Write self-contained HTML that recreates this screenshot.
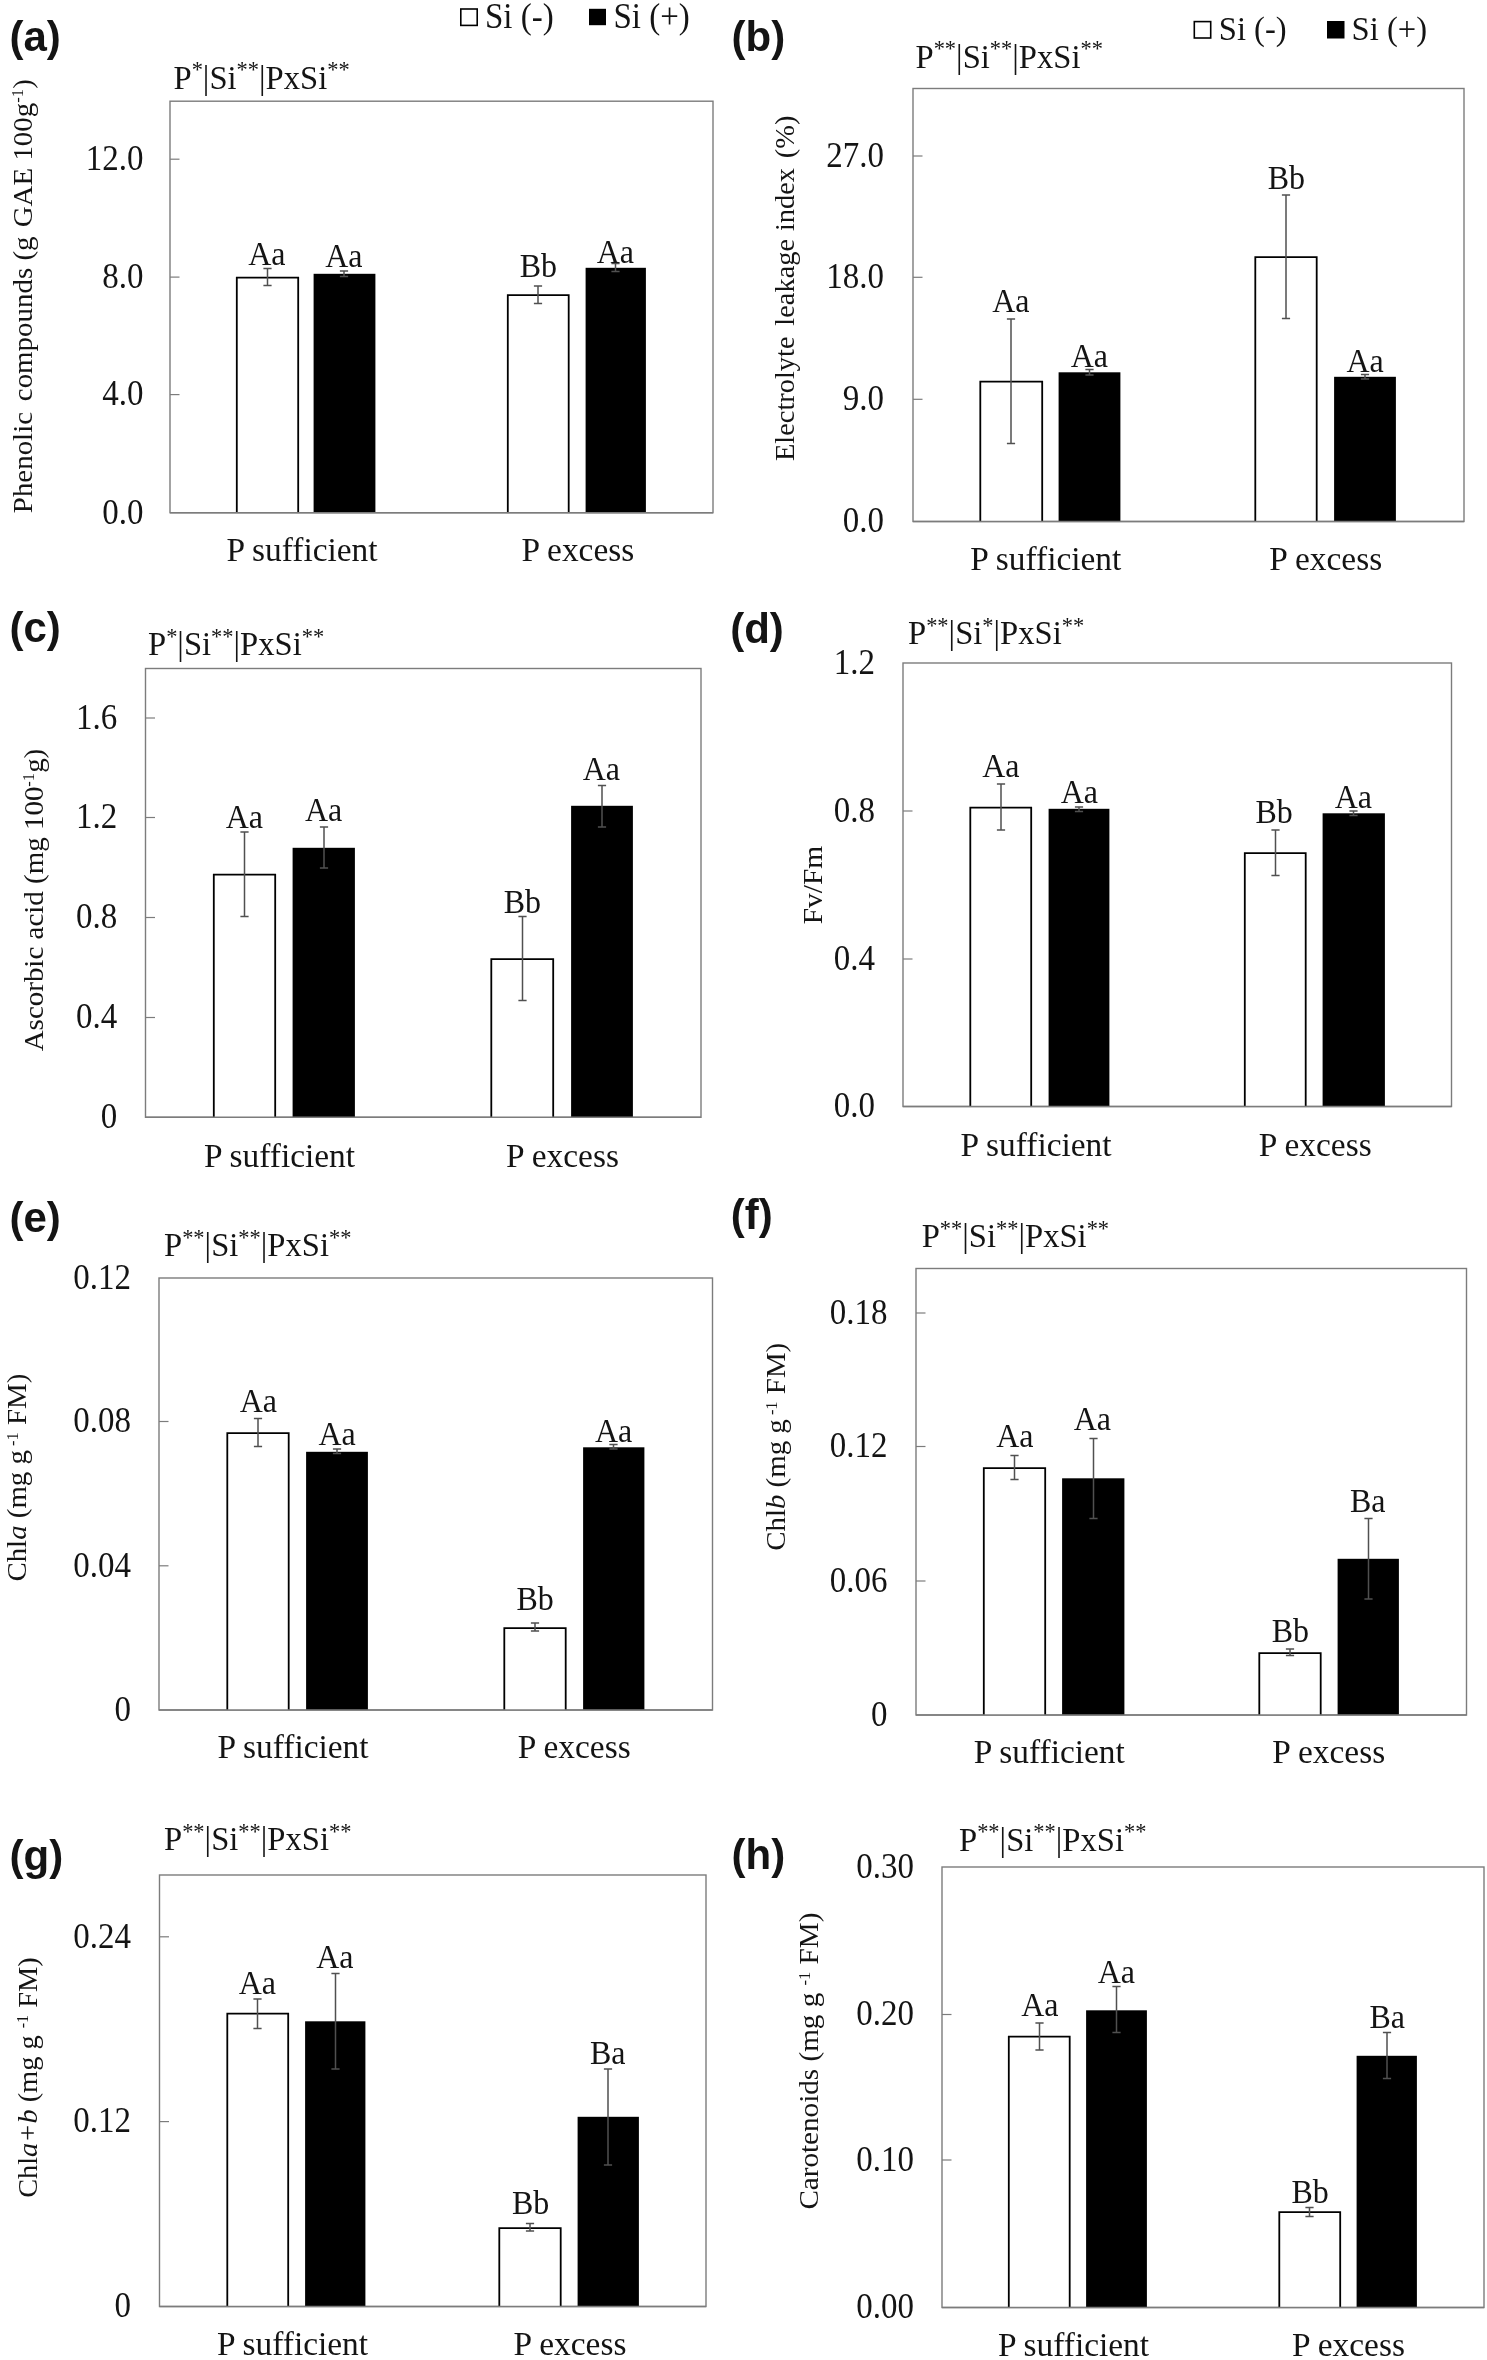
<!DOCTYPE html>
<html><head><meta charset="utf-8"><title>Figure</title>
<style>
html,body{margin:0;padding:0;background:#fff;}
body{width:1487px;height:2360px;overflow:hidden;font-family:"Liberation Serif",serif;}
svg{display:block;filter:blur(0.4px);}
text{white-space:pre;}
</style></head><body>
<svg width="1487" height="2360" viewBox="0 0 1487 2360">
<rect x="0" y="0" width="1487" height="2360" fill="#fff"/>
<rect x="170" y="101.2" width="543" height="411.5" fill="#fff" stroke="#7c7c7c" stroke-width="1.4"/>
<line x1="170" y1="159.2" x2="179.5" y2="159.2" stroke="#7c7c7c" stroke-width="1.2"/>
<text transform="translate(143.5 170) scale(1 1.06)" font-size="33" text-anchor="end" font-family='"Liberation Serif", serif' font-weight="normal" fill="#141414">12.0</text>
<line x1="170" y1="277.1" x2="179.5" y2="277.1" stroke="#7c7c7c" stroke-width="1.2"/>
<text transform="translate(143.5 287.9) scale(1 1.06)" font-size="33" text-anchor="end" font-family='"Liberation Serif", serif' font-weight="normal" fill="#141414">8.0</text>
<line x1="170" y1="394.6" x2="179.5" y2="394.6" stroke="#7c7c7c" stroke-width="1.2"/>
<text transform="translate(143.5 405.4) scale(1 1.06)" font-size="33" text-anchor="end" font-family='"Liberation Serif", serif' font-weight="normal" fill="#141414">4.0</text>
<text transform="translate(143.5 523.5) scale(1 1.06)" font-size="33" text-anchor="end" font-family='"Liberation Serif", serif' font-weight="normal" fill="#141414">0.0</text>
<path d="M236.8 512.7V277.7H298.2V512.7" fill="#fff" stroke="#000" stroke-width="1.8"/>
<rect x="313.6" y="273.8" width="61.8" height="238.9" fill="#000"/>
<path d="M507.8 512.7V295.2H568.7V512.7" fill="#fff" stroke="#000" stroke-width="1.8"/>
<rect x="585.6" y="267.8" width="60.3" height="244.9" fill="#000"/>
<line x1="170" y1="512.7" x2="713" y2="512.7" stroke="#7c7c7c" stroke-width="1.4"/>
<path d="M267.5 268.5V285.5M263.4 268.5H271.6M263.4 285.5H271.6" stroke="#505050" stroke-width="1.5" fill="none"/>
<path d="M344 271V276.5M339.9 271H348.1M339.9 276.5H348.1" stroke="#505050" stroke-width="1.5" fill="none"/>
<path d="M538 286V303.5M533.9 286H542.1M533.9 303.5H542.1" stroke="#505050" stroke-width="1.5" fill="none"/>
<path d="M615.5 263.5V271.5M611.4 263.5H619.6M611.4 271.5H619.6" stroke="#505050" stroke-width="1.5" fill="none"/>
<text transform="translate(266.8 264.7) scale(1 1.06)" font-size="32" text-anchor="middle" font-family='"Liberation Serif", serif' font-weight="normal" fill="#141414">Aa</text>
<text transform="translate(343.8 267.2) scale(1 1.06)" font-size="32" text-anchor="middle" font-family='"Liberation Serif", serif' font-weight="normal" fill="#141414">Aa</text>
<text transform="translate(538.3 277.2) scale(1 1.06)" font-size="32" text-anchor="middle" font-family='"Liberation Serif", serif' font-weight="normal" fill="#141414">Bb</text>
<text transform="translate(615.3 262.7) scale(1 1.06)" font-size="32" text-anchor="middle" font-family='"Liberation Serif", serif' font-weight="normal" fill="#141414">Aa</text>
<text transform="translate(302 561.3) scale(1 1)" font-size="33.4" text-anchor="middle" font-family='"Liberation Serif", serif' font-weight="normal" fill="#141414">P sufficient</text>
<text transform="translate(577.8 561.3) scale(1 1)" font-size="33.4" text-anchor="middle" font-family='"Liberation Serif", serif' font-weight="normal" fill="#141414">P excess</text>
<text transform="translate(173.5 88.6) scale(1 1.06)" font-size="32.6" text-anchor="start" font-family='"Liberation Serif", serif' font-weight="normal" fill="#141414">P<tspan dy="-10.76" font-size="22.49">*</tspan><tspan dy="10.76">|</tspan>Si<tspan dy="-10.76" font-size="22.49">**</tspan><tspan dy="10.76">|</tspan>PxSi<tspan dy="-10.76" font-size="22.49">**</tspan></text>
<text transform="translate(9.5 51.3) scale(1 1)" font-size="42" text-anchor="start" font-family='"Liberation Sans", sans-serif' font-weight="bold" fill="#141414">(a)</text>
<text transform="translate(31.6 296.2) rotate(-90) scale(1.06 1)" font-size="27.5" text-anchor="middle" font-family='"Liberation Serif", serif' font-weight="normal" fill="#141414" textLength="409.43" lengthAdjust="spacingAndGlyphs">Phenolic <tspan dx="3.4">compounds</tspan> (g <tspan dx="1.9">GAE</tspan> 100g<tspan dy="-8.34" font-size="15.85">-1</tspan><tspan dy="8.34">&#8203;</tspan>)</text>
<rect x="913" y="88.5" width="551" height="433" fill="#fff" stroke="#7c7c7c" stroke-width="1.4"/>
<line x1="913" y1="156" x2="922.5" y2="156" stroke="#7c7c7c" stroke-width="1.2"/>
<text transform="translate(884 166.8) scale(1 1.06)" font-size="33" text-anchor="end" font-family='"Liberation Serif", serif' font-weight="normal" fill="#141414">27.0</text>
<line x1="913" y1="277.3" x2="922.5" y2="277.3" stroke="#7c7c7c" stroke-width="1.2"/>
<text transform="translate(884 288.1) scale(1 1.06)" font-size="33" text-anchor="end" font-family='"Liberation Serif", serif' font-weight="normal" fill="#141414">18.0</text>
<line x1="913" y1="399.3" x2="922.5" y2="399.3" stroke="#7c7c7c" stroke-width="1.2"/>
<text transform="translate(884 410.1) scale(1 1.06)" font-size="33" text-anchor="end" font-family='"Liberation Serif", serif' font-weight="normal" fill="#141414">9.0</text>
<text transform="translate(884 532.3) scale(1 1.06)" font-size="33" text-anchor="end" font-family='"Liberation Serif", serif' font-weight="normal" fill="#141414">0.0</text>
<path d="M980.3 521.5V381.7H1042.2V521.5" fill="#fff" stroke="#000" stroke-width="1.8"/>
<rect x="1058.6" y="372.3" width="61.8" height="149.2" fill="#000"/>
<path d="M1255.3 521.5V257.2H1316.7V521.5" fill="#fff" stroke="#000" stroke-width="1.8"/>
<rect x="1334.1" y="376.8" width="61.8" height="144.7" fill="#000"/>
<line x1="913" y1="521.5" x2="1464" y2="521.5" stroke="#7c7c7c" stroke-width="1.4"/>
<path d="M1011 319V443.5M1006.9 319H1015.1M1006.9 443.5H1015.1" stroke="#505050" stroke-width="1.5" fill="none"/>
<path d="M1089.5 369.5V375M1085.4 369.5H1093.6M1085.4 375H1093.6" stroke="#505050" stroke-width="1.5" fill="none"/>
<path d="M1286 195V318.5M1281.9 195H1290.1M1281.9 318.5H1290.1" stroke="#505050" stroke-width="1.5" fill="none"/>
<path d="M1365 374.5V379M1360.9 374.5H1369.1M1360.9 379H1369.1" stroke="#505050" stroke-width="1.5" fill="none"/>
<text transform="translate(1010.8 311.7) scale(1 1.06)" font-size="32" text-anchor="middle" font-family='"Liberation Serif", serif' font-weight="normal" fill="#141414">Aa</text>
<text transform="translate(1089.3 366.7) scale(1 1.06)" font-size="32" text-anchor="middle" font-family='"Liberation Serif", serif' font-weight="normal" fill="#141414">Aa</text>
<text transform="translate(1286.3 188.7) scale(1 1.06)" font-size="32" text-anchor="middle" font-family='"Liberation Serif", serif' font-weight="normal" fill="#141414">Bb</text>
<text transform="translate(1365.05 372.2) scale(1 1.06)" font-size="32" text-anchor="middle" font-family='"Liberation Serif", serif' font-weight="normal" fill="#141414">Aa</text>
<text transform="translate(1045.75 569.8) scale(1 1)" font-size="33.4" text-anchor="middle" font-family='"Liberation Serif", serif' font-weight="normal" fill="#141414">P sufficient</text>
<text transform="translate(1325.75 569.8) scale(1 1)" font-size="33.4" text-anchor="middle" font-family='"Liberation Serif", serif' font-weight="normal" fill="#141414">P excess</text>
<text transform="translate(915.5 67.5) scale(1 1.06)" font-size="32.6" text-anchor="start" font-family='"Liberation Serif", serif' font-weight="normal" fill="#141414">P<tspan dy="-10.76" font-size="22.49">**</tspan><tspan dy="10.76">|</tspan>Si<tspan dy="-10.76" font-size="22.49">**</tspan><tspan dy="10.76">|</tspan>PxSi<tspan dy="-10.76" font-size="22.49">**</tspan></text>
<text transform="translate(731.5 51.3) scale(1 1)" font-size="42" text-anchor="start" font-family='"Liberation Sans", sans-serif' font-weight="bold" fill="#141414">(b)</text>
<text transform="translate(794 288.3) rotate(-90) scale(1.06 1)" font-size="27.3" text-anchor="middle" font-family='"Liberation Serif", serif' font-weight="normal" fill="#141414" textLength="325.94" lengthAdjust="spacingAndGlyphs">Electrolyte <tspan dx="3.6">leakage</tspan> <tspan dx="0.8">index</tspan> <tspan dx="2.6">(%)</tspan></text>
<rect x="145.5" y="668.5" width="555.5" height="448.8" fill="#fff" stroke="#7c7c7c" stroke-width="1.4"/>
<line x1="145.5" y1="718" x2="155" y2="718" stroke="#7c7c7c" stroke-width="1.2"/>
<text transform="translate(117.3 728.8) scale(1 1.06)" font-size="33" text-anchor="end" font-family='"Liberation Serif", serif' font-weight="normal" fill="#141414">1.6</text>
<line x1="145.5" y1="817.5" x2="155" y2="817.5" stroke="#7c7c7c" stroke-width="1.2"/>
<text transform="translate(117.3 828.3) scale(1 1.06)" font-size="33" text-anchor="end" font-family='"Liberation Serif", serif' font-weight="normal" fill="#141414">1.2</text>
<line x1="145.5" y1="917.5" x2="155" y2="917.5" stroke="#7c7c7c" stroke-width="1.2"/>
<text transform="translate(117.3 928.3) scale(1 1.06)" font-size="33" text-anchor="end" font-family='"Liberation Serif", serif' font-weight="normal" fill="#141414">0.8</text>
<line x1="145.5" y1="1017.5" x2="155" y2="1017.5" stroke="#7c7c7c" stroke-width="1.2"/>
<text transform="translate(117.3 1028.3) scale(1 1.06)" font-size="33" text-anchor="end" font-family='"Liberation Serif", serif' font-weight="normal" fill="#141414">0.4</text>
<text transform="translate(117.3 1128.1) scale(1 1.06)" font-size="33" text-anchor="end" font-family='"Liberation Serif", serif' font-weight="normal" fill="#141414">0</text>
<path d="M213.8 1117.3V874.7H275.2V1117.3" fill="#fff" stroke="#000" stroke-width="1.8"/>
<rect x="292.6" y="847.8" width="62.3" height="269.5" fill="#000"/>
<path d="M491.3 1117.3V959.2H553.2V1117.3" fill="#fff" stroke="#000" stroke-width="1.8"/>
<rect x="571.1" y="805.8" width="61.8" height="311.5" fill="#000"/>
<line x1="145.5" y1="1117.3" x2="701" y2="1117.3" stroke="#7c7c7c" stroke-width="1.4"/>
<path d="M244.5 832V916.5M240.4 832H248.6M240.4 916.5H248.6" stroke="#505050" stroke-width="1.5" fill="none"/>
<path d="M324 827V868M319.9 827H328.1M319.9 868H328.1" stroke="#505050" stroke-width="1.5" fill="none"/>
<path d="M522.5 916.5V1000.5M518.4 916.5H526.6M518.4 1000.5H526.6" stroke="#505050" stroke-width="1.5" fill="none"/>
<path d="M602 785.5V827M597.9 785.5H606.1M597.9 827H606.1" stroke="#505050" stroke-width="1.5" fill="none"/>
<text transform="translate(244.3 828.2) scale(1 1.06)" font-size="32" text-anchor="middle" font-family='"Liberation Serif", serif' font-weight="normal" fill="#141414">Aa</text>
<text transform="translate(323.55 820.7) scale(1 1.06)" font-size="32" text-anchor="middle" font-family='"Liberation Serif", serif' font-weight="normal" fill="#141414">Aa</text>
<text transform="translate(522.3 913.2) scale(1 1.06)" font-size="32" text-anchor="middle" font-family='"Liberation Serif", serif' font-weight="normal" fill="#141414">Bb</text>
<text transform="translate(601.3 779.7) scale(1 1.06)" font-size="32" text-anchor="middle" font-family='"Liberation Serif", serif' font-weight="normal" fill="#141414">Aa</text>
<text transform="translate(279.5 1166.8) scale(1 1)" font-size="33.4" text-anchor="middle" font-family='"Liberation Serif", serif' font-weight="normal" fill="#141414">P sufficient</text>
<text transform="translate(562.5 1166.8) scale(1 1)" font-size="33.4" text-anchor="middle" font-family='"Liberation Serif", serif' font-weight="normal" fill="#141414">P excess</text>
<text transform="translate(148 655) scale(1 1.06)" font-size="32.6" text-anchor="start" font-family='"Liberation Serif", serif' font-weight="normal" fill="#141414">P<tspan dy="-10.76" font-size="22.49">*</tspan><tspan dy="10.76">|</tspan>Si<tspan dy="-10.76" font-size="22.49">**</tspan><tspan dy="10.76">|</tspan>PxSi<tspan dy="-10.76" font-size="22.49">**</tspan></text>
<text transform="translate(9.5 642.3) scale(1 1)" font-size="42" text-anchor="start" font-family='"Liberation Sans", sans-serif' font-weight="bold" fill="#141414">(c)</text>
<text transform="translate(42.6 900) rotate(-90) scale(1.06 1)" font-size="27.8" text-anchor="middle" font-family='"Liberation Serif", serif' font-weight="normal" fill="#141414" textLength="285.47" lengthAdjust="spacingAndGlyphs">Ascorbic acid (mg 100<tspan dy="-8.34" font-size="15.85">-1</tspan><tspan dy="8.34">g)</tspan></text>
<rect x="903" y="663" width="548.5" height="443.5" fill="#fff" stroke="#7c7c7c" stroke-width="1.4"/>
<text transform="translate(875 673.8) scale(1 1.06)" font-size="33" text-anchor="end" font-family='"Liberation Serif", serif' font-weight="normal" fill="#141414">1.2</text>
<line x1="903" y1="811" x2="912.5" y2="811" stroke="#7c7c7c" stroke-width="1.2"/>
<text transform="translate(875 821.8) scale(1 1.06)" font-size="33" text-anchor="end" font-family='"Liberation Serif", serif' font-weight="normal" fill="#141414">0.8</text>
<line x1="903" y1="959" x2="912.5" y2="959" stroke="#7c7c7c" stroke-width="1.2"/>
<text transform="translate(875 969.8) scale(1 1.06)" font-size="33" text-anchor="end" font-family='"Liberation Serif", serif' font-weight="normal" fill="#141414">0.4</text>
<text transform="translate(875 1117.3) scale(1 1.06)" font-size="33" text-anchor="end" font-family='"Liberation Serif", serif' font-weight="normal" fill="#141414">0.0</text>
<path d="M970.3 1106.5V807.7H1031.2V1106.5" fill="#fff" stroke="#000" stroke-width="1.8"/>
<rect x="1048.6" y="808.8" width="60.8" height="297.7" fill="#000"/>
<path d="M1244.8 1106.5V853.2H1305.7V1106.5" fill="#fff" stroke="#000" stroke-width="1.8"/>
<rect x="1322.6" y="813.3" width="62.3" height="293.2" fill="#000"/>
<line x1="903" y1="1106.5" x2="1451.5" y2="1106.5" stroke="#7c7c7c" stroke-width="1.4"/>
<path d="M1001 784V830M996.9 784H1005.1M996.9 830H1005.1" stroke="#505050" stroke-width="1.5" fill="none"/>
<path d="M1079 807V811.5M1074.9 807H1083.1M1074.9 811.5H1083.1" stroke="#505050" stroke-width="1.5" fill="none"/>
<path d="M1275.5 830V875.5M1271.4 830H1279.6M1271.4 875.5H1279.6" stroke="#505050" stroke-width="1.5" fill="none"/>
<path d="M1353.5 811V815.5M1349.4 811H1357.6M1349.4 815.5H1357.6" stroke="#505050" stroke-width="1.5" fill="none"/>
<text transform="translate(1000.8 776.7) scale(1 1.06)" font-size="32" text-anchor="middle" font-family='"Liberation Serif", serif' font-weight="normal" fill="#141414">Aa</text>
<text transform="translate(1079.3 803.2) scale(1 1.06)" font-size="32" text-anchor="middle" font-family='"Liberation Serif", serif' font-weight="normal" fill="#141414">Aa</text>
<text transform="translate(1274.05 823.2) scale(1 1.06)" font-size="32" text-anchor="middle" font-family='"Liberation Serif", serif' font-weight="normal" fill="#141414">Bb</text>
<text transform="translate(1353.3 808.2) scale(1 1.06)" font-size="32" text-anchor="middle" font-family='"Liberation Serif", serif' font-weight="normal" fill="#141414">Aa</text>
<text transform="translate(1036 1156) scale(1 1)" font-size="33.4" text-anchor="middle" font-family='"Liberation Serif", serif' font-weight="normal" fill="#141414">P sufficient</text>
<text transform="translate(1315.25 1156) scale(1 1)" font-size="33.4" text-anchor="middle" font-family='"Liberation Serif", serif' font-weight="normal" fill="#141414">P excess</text>
<text transform="translate(908 644) scale(1 1.06)" font-size="32.6" text-anchor="start" font-family='"Liberation Serif", serif' font-weight="normal" fill="#141414">P<tspan dy="-10.76" font-size="22.49">**</tspan><tspan dy="10.76">|</tspan>Si<tspan dy="-10.76" font-size="22.49">*</tspan><tspan dy="10.76">|</tspan>PxSi<tspan dy="-10.76" font-size="22.49">**</tspan></text>
<text transform="translate(730.2 642.8) scale(1 1)" font-size="42" text-anchor="start" font-family='"Liberation Sans", sans-serif' font-weight="bold" fill="#141414">(d)</text>
<text transform="translate(821.6 885) rotate(-90) scale(1.06 1)" font-size="27.8" text-anchor="middle" font-family='"Liberation Serif", serif' font-weight="normal" fill="#141414">Fv/Fm</text>
<rect x="159" y="1278" width="553.5" height="432" fill="#fff" stroke="#7c7c7c" stroke-width="1.4"/>
<text transform="translate(131 1288.8) scale(1 1.06)" font-size="33" text-anchor="end" font-family='"Liberation Serif", serif' font-weight="normal" fill="#141414">0.12</text>
<line x1="159" y1="1421.5" x2="168.5" y2="1421.5" stroke="#7c7c7c" stroke-width="1.2"/>
<text transform="translate(131 1432.3) scale(1 1.06)" font-size="33" text-anchor="end" font-family='"Liberation Serif", serif' font-weight="normal" fill="#141414">0.08</text>
<line x1="159" y1="1565.8" x2="168.5" y2="1565.8" stroke="#7c7c7c" stroke-width="1.2"/>
<text transform="translate(131 1576.6) scale(1 1.06)" font-size="33" text-anchor="end" font-family='"Liberation Serif", serif' font-weight="normal" fill="#141414">0.04</text>
<text transform="translate(131 1720.8) scale(1 1.06)" font-size="33" text-anchor="end" font-family='"Liberation Serif", serif' font-weight="normal" fill="#141414">0</text>
<path d="M227.3 1710V1433.2H288.7V1710" fill="#fff" stroke="#000" stroke-width="1.8"/>
<rect x="306.1" y="1451.8" width="61.8" height="258.2" fill="#000"/>
<path d="M504.3 1710V1628.2H565.7V1710" fill="#fff" stroke="#000" stroke-width="1.8"/>
<rect x="583.1" y="1447.3" width="61.3" height="262.7" fill="#000"/>
<line x1="159" y1="1710" x2="712.5" y2="1710" stroke="#7c7c7c" stroke-width="1.4"/>
<path d="M258 1418.5V1446.5M253.9 1418.5H262.1M253.9 1446.5H262.1" stroke="#505050" stroke-width="1.5" fill="none"/>
<path d="M337 1449V1453.5M332.9 1449H341.1M332.9 1453.5H341.1" stroke="#505050" stroke-width="1.5" fill="none"/>
<path d="M535 1623V1631M530.9 1623H539.1M530.9 1631H539.1" stroke="#505050" stroke-width="1.5" fill="none"/>
<path d="M613.5 1444.5V1449M609.4 1444.5H617.6M609.4 1449H617.6" stroke="#505050" stroke-width="1.5" fill="none"/>
<text transform="translate(258.3 1412.2) scale(1 1.06)" font-size="32" text-anchor="middle" font-family='"Liberation Serif", serif' font-weight="normal" fill="#141414">Aa</text>
<text transform="translate(337.05 1444.7) scale(1 1.06)" font-size="32" text-anchor="middle" font-family='"Liberation Serif", serif' font-weight="normal" fill="#141414">Aa</text>
<text transform="translate(535.05 1609.7) scale(1 1.06)" font-size="32" text-anchor="middle" font-family='"Liberation Serif", serif' font-weight="normal" fill="#141414">Bb</text>
<text transform="translate(613.55 1441.7) scale(1 1.06)" font-size="32" text-anchor="middle" font-family='"Liberation Serif", serif' font-weight="normal" fill="#141414">Aa</text>
<text transform="translate(293 1758.2) scale(1 1)" font-size="33.4" text-anchor="middle" font-family='"Liberation Serif", serif' font-weight="normal" fill="#141414">P sufficient</text>
<text transform="translate(574.25 1758.2) scale(1 1)" font-size="33.4" text-anchor="middle" font-family='"Liberation Serif", serif' font-weight="normal" fill="#141414">P excess</text>
<text transform="translate(164 1256) scale(1 1.06)" font-size="32.6" text-anchor="start" font-family='"Liberation Serif", serif' font-weight="normal" fill="#141414">P<tspan dy="-10.76" font-size="22.49">**</tspan><tspan dy="10.76">|</tspan>Si<tspan dy="-10.76" font-size="22.49">**</tspan><tspan dy="10.76">|</tspan>PxSi<tspan dy="-10.76" font-size="22.49">**</tspan></text>
<text transform="translate(9.5 1231.5) scale(1 1)" font-size="42" text-anchor="start" font-family='"Liberation Sans", sans-serif' font-weight="bold" fill="#141414">(e)</text>
<text transform="translate(26.3 1477.6) rotate(-90) scale(1.06 1)" font-size="27.8" text-anchor="middle" font-family='"Liberation Serif", serif' font-weight="normal" fill="#141414" textLength="196.23" lengthAdjust="spacingAndGlyphs">Chl<tspan font-style="italic">a</tspan> (mg g<tspan dy="-8.34" font-size="15.85"> -1</tspan><tspan dy="8.34"> FM)</tspan></text>
<rect x="916" y="1268.5" width="550.5" height="446.5" fill="#fff" stroke="#7c7c7c" stroke-width="1.4"/>
<line x1="916" y1="1313" x2="925.5" y2="1313" stroke="#7c7c7c" stroke-width="1.2"/>
<text transform="translate(887.5 1323.8) scale(1 1.06)" font-size="33" text-anchor="end" font-family='"Liberation Serif", serif' font-weight="normal" fill="#141414">0.18</text>
<line x1="916" y1="1446.5" x2="925.5" y2="1446.5" stroke="#7c7c7c" stroke-width="1.2"/>
<text transform="translate(887.5 1457.3) scale(1 1.06)" font-size="33" text-anchor="end" font-family='"Liberation Serif", serif' font-weight="normal" fill="#141414">0.12</text>
<line x1="916" y1="1581" x2="925.5" y2="1581" stroke="#7c7c7c" stroke-width="1.2"/>
<text transform="translate(887.5 1591.8) scale(1 1.06)" font-size="33" text-anchor="end" font-family='"Liberation Serif", serif' font-weight="normal" fill="#141414">0.06</text>
<text transform="translate(887.5 1725.8) scale(1 1.06)" font-size="33" text-anchor="end" font-family='"Liberation Serif", serif' font-weight="normal" fill="#141414">0</text>
<path d="M983.8 1715V1468.2H1045.2V1715" fill="#fff" stroke="#000" stroke-width="1.8"/>
<rect x="1062.1" y="1478.3" width="62.3" height="236.7" fill="#000"/>
<path d="M1259.3 1715V1653.2H1320.7V1715" fill="#fff" stroke="#000" stroke-width="1.8"/>
<rect x="1337.6" y="1558.8" width="61.3" height="156.2" fill="#000"/>
<line x1="916" y1="1715" x2="1466.5" y2="1715" stroke="#7c7c7c" stroke-width="1.4"/>
<path d="M1014.5 1455.5V1479.5M1010.4 1455.5H1018.6M1010.4 1479.5H1018.6" stroke="#505050" stroke-width="1.5" fill="none"/>
<path d="M1093.5 1438.5V1518.5M1089.4 1438.5H1097.6M1089.4 1518.5H1097.6" stroke="#505050" stroke-width="1.5" fill="none"/>
<path d="M1290 1649V1655.5M1285.9 1649H1294.1M1285.9 1655.5H1294.1" stroke="#505050" stroke-width="1.5" fill="none"/>
<path d="M1368.5 1518.5V1599M1364.4 1518.5H1372.6M1364.4 1599H1372.6" stroke="#505050" stroke-width="1.5" fill="none"/>
<text transform="translate(1014.8 1447.2) scale(1 1.06)" font-size="32" text-anchor="middle" font-family='"Liberation Serif", serif' font-weight="normal" fill="#141414">Aa</text>
<text transform="translate(1092.3 1429.7) scale(1 1.06)" font-size="32" text-anchor="middle" font-family='"Liberation Serif", serif' font-weight="normal" fill="#141414">Aa</text>
<text transform="translate(1290.3 1641.7) scale(1 1.06)" font-size="32" text-anchor="middle" font-family='"Liberation Serif", serif' font-weight="normal" fill="#141414">Bb</text>
<text transform="translate(1367.8 1511.7) scale(1 1.06)" font-size="32" text-anchor="middle" font-family='"Liberation Serif", serif' font-weight="normal" fill="#141414">Ba</text>
<text transform="translate(1049.25 1762.5) scale(1 1)" font-size="33.4" text-anchor="middle" font-family='"Liberation Serif", serif' font-weight="normal" fill="#141414">P sufficient</text>
<text transform="translate(1328.75 1762.5) scale(1 1)" font-size="33.4" text-anchor="middle" font-family='"Liberation Serif", serif' font-weight="normal" fill="#141414">P excess</text>
<text transform="translate(921.7 1247) scale(1 1.06)" font-size="32.6" text-anchor="start" font-family='"Liberation Serif", serif' font-weight="normal" fill="#141414">P<tspan dy="-10.76" font-size="22.49">**</tspan><tspan dy="10.76">|</tspan>Si<tspan dy="-10.76" font-size="22.49">**</tspan><tspan dy="10.76">|</tspan>PxSi<tspan dy="-10.76" font-size="22.49">**</tspan></text>
<text transform="translate(730.7 1229) scale(1 1)" font-size="42" text-anchor="start" font-family='"Liberation Sans", sans-serif' font-weight="bold" fill="#141414">(f)</text>
<text transform="translate(785 1446.8) rotate(-90) scale(1.06 1)" font-size="27.8" text-anchor="middle" font-family='"Liberation Serif", serif' font-weight="normal" fill="#141414" textLength="196.23" lengthAdjust="spacingAndGlyphs">Chl<tspan font-style="italic">b</tspan> (mg g<tspan dy="-8.34" font-size="15.85"> -1</tspan><tspan dy="8.34"> FM)</tspan></text>
<rect x="159.5" y="1875" width="546.5" height="431.5" fill="#fff" stroke="#7c7c7c" stroke-width="1.4"/>
<line x1="159.5" y1="1936.8" x2="169" y2="1936.8" stroke="#7c7c7c" stroke-width="1.2"/>
<text transform="translate(131 1947.6) scale(1 1.06)" font-size="33" text-anchor="end" font-family='"Liberation Serif", serif' font-weight="normal" fill="#141414">0.24</text>
<line x1="159.5" y1="2121.6" x2="169" y2="2121.6" stroke="#7c7c7c" stroke-width="1.2"/>
<text transform="translate(131 2132.4) scale(1 1.06)" font-size="33" text-anchor="end" font-family='"Liberation Serif", serif' font-weight="normal" fill="#141414">0.12</text>
<text transform="translate(131 2317.3) scale(1 1.06)" font-size="33" text-anchor="end" font-family='"Liberation Serif", serif' font-weight="normal" fill="#141414">0</text>
<path d="M227.3 2306.5V2013.7H288.2V2306.5" fill="#fff" stroke="#000" stroke-width="1.8"/>
<rect x="305.1" y="2021.3" width="60.3" height="285.2" fill="#000"/>
<path d="M499.3 2306.5V2228.2H560.7V2306.5" fill="#fff" stroke="#000" stroke-width="1.8"/>
<rect x="577.6" y="2116.8" width="61.3" height="189.7" fill="#000"/>
<line x1="159.5" y1="2306.5" x2="706" y2="2306.5" stroke="#7c7c7c" stroke-width="1.4"/>
<path d="M257.5 1999V2028.5M253.4 1999H261.6M253.4 2028.5H261.6" stroke="#505050" stroke-width="1.5" fill="none"/>
<path d="M335.5 1973.5V2069M331.4 1973.5H339.6M331.4 2069H339.6" stroke="#505050" stroke-width="1.5" fill="none"/>
<path d="M530 2223.5V2231M525.9 2223.5H534.1M525.9 2231H534.1" stroke="#505050" stroke-width="1.5" fill="none"/>
<path d="M608 2069V2165M603.9 2069H612.1M603.9 2165H612.1" stroke="#505050" stroke-width="1.5" fill="none"/>
<text transform="translate(257.3 1994.2) scale(1 1.06)" font-size="32" text-anchor="middle" font-family='"Liberation Serif", serif' font-weight="normal" fill="#141414">Aa</text>
<text transform="translate(334.8 1968.2) scale(1 1.06)" font-size="32" text-anchor="middle" font-family='"Liberation Serif", serif' font-weight="normal" fill="#141414">Aa</text>
<text transform="translate(530.55 2214.2) scale(1 1.06)" font-size="32" text-anchor="middle" font-family='"Liberation Serif", serif' font-weight="normal" fill="#141414">Bb</text>
<text transform="translate(607.8 2064.2) scale(1 1.06)" font-size="32" text-anchor="middle" font-family='"Liberation Serif", serif' font-weight="normal" fill="#141414">Ba</text>
<text transform="translate(292.5 2355) scale(1 1)" font-size="33.4" text-anchor="middle" font-family='"Liberation Serif", serif' font-weight="normal" fill="#141414">P sufficient</text>
<text transform="translate(570 2355) scale(1 1)" font-size="33.4" text-anchor="middle" font-family='"Liberation Serif", serif' font-weight="normal" fill="#141414">P excess</text>
<text transform="translate(164 1850) scale(1 1.06)" font-size="32.6" text-anchor="start" font-family='"Liberation Serif", serif' font-weight="normal" fill="#141414">P<tspan dy="-10.76" font-size="22.49">**</tspan><tspan dy="10.76">|</tspan>Si<tspan dy="-10.76" font-size="22.49">**</tspan><tspan dy="10.76">|</tspan>PxSi<tspan dy="-10.76" font-size="22.49">**</tspan></text>
<text transform="translate(9.5 1870) scale(1 1)" font-size="42" text-anchor="start" font-family='"Liberation Sans", sans-serif' font-weight="bold" fill="#141414">(g)</text>
<text transform="translate(36.6 2077.6) rotate(-90) scale(1.06 1)" font-size="27.8" text-anchor="middle" font-family='"Liberation Serif", serif' font-weight="normal" fill="#141414" textLength="226.89" lengthAdjust="spacingAndGlyphs">Chl<tspan font-style="italic">a+b</tspan> (mg g <tspan dy="-8.34" font-size="15.85">-1</tspan><tspan dy="8.34"> FM)</tspan></text>
<rect x="942" y="1867" width="542" height="440.5" fill="#fff" stroke="#7c7c7c" stroke-width="1.4"/>
<text transform="translate(914 1877.8) scale(1 1.06)" font-size="33" text-anchor="end" font-family='"Liberation Serif", serif' font-weight="normal" fill="#141414">0.30</text>
<line x1="942" y1="2014.5" x2="951.5" y2="2014.5" stroke="#7c7c7c" stroke-width="1.2"/>
<text transform="translate(914 2025.3) scale(1 1.06)" font-size="33" text-anchor="end" font-family='"Liberation Serif", serif' font-weight="normal" fill="#141414">0.20</text>
<line x1="942" y1="2160" x2="951.5" y2="2160" stroke="#7c7c7c" stroke-width="1.2"/>
<text transform="translate(914 2170.8) scale(1 1.06)" font-size="33" text-anchor="end" font-family='"Liberation Serif", serif' font-weight="normal" fill="#141414">0.10</text>
<text transform="translate(914 2318.3) scale(1 1.06)" font-size="33" text-anchor="end" font-family='"Liberation Serif", serif' font-weight="normal" fill="#141414">0.00</text>
<path d="M1008.8 2307.5V2036.7H1069.7V2307.5" fill="#fff" stroke="#000" stroke-width="1.8"/>
<rect x="1086.1" y="2010.3" width="60.8" height="297.2" fill="#000"/>
<path d="M1279.3 2307.5V2212.2H1340.2V2307.5" fill="#fff" stroke="#000" stroke-width="1.8"/>
<rect x="1356.6" y="2055.8" width="60.3" height="251.7" fill="#000"/>
<line x1="942" y1="2307.5" x2="1484" y2="2307.5" stroke="#7c7c7c" stroke-width="1.4"/>
<path d="M1039.5 2023V2050M1035.4 2023H1043.6M1035.4 2050H1043.6" stroke="#505050" stroke-width="1.5" fill="none"/>
<path d="M1116.5 1986.5V2032.5M1112.4 1986.5H1120.6M1112.4 2032.5H1120.6" stroke="#505050" stroke-width="1.5" fill="none"/>
<path d="M1309.5 2207.5V2216.5M1305.4 2207.5H1313.6M1305.4 2216.5H1313.6" stroke="#505050" stroke-width="1.5" fill="none"/>
<path d="M1387 2032.5V2078.5M1382.9 2032.5H1391.1M1382.9 2078.5H1391.1" stroke="#505050" stroke-width="1.5" fill="none"/>
<text transform="translate(1039.8 2015.7) scale(1 1.06)" font-size="32" text-anchor="middle" font-family='"Liberation Serif", serif' font-weight="normal" fill="#141414">Aa</text>
<text transform="translate(1116.3 1983.2) scale(1 1.06)" font-size="32" text-anchor="middle" font-family='"Liberation Serif", serif' font-weight="normal" fill="#141414">Aa</text>
<text transform="translate(1310.05 2203.2) scale(1 1.06)" font-size="32" text-anchor="middle" font-family='"Liberation Serif", serif' font-weight="normal" fill="#141414">Bb</text>
<text transform="translate(1387.3 2028.2) scale(1 1.06)" font-size="32" text-anchor="middle" font-family='"Liberation Serif", serif' font-weight="normal" fill="#141414">Ba</text>
<text transform="translate(1073.5 2355.8) scale(1 1)" font-size="33.4" text-anchor="middle" font-family='"Liberation Serif", serif' font-weight="normal" fill="#141414">P sufficient</text>
<text transform="translate(1348.5 2355.8) scale(1 1)" font-size="33.4" text-anchor="middle" font-family='"Liberation Serif", serif' font-weight="normal" fill="#141414">P excess</text>
<text transform="translate(959 1850.7) scale(1 1.06)" font-size="32.6" text-anchor="start" font-family='"Liberation Serif", serif' font-weight="normal" fill="#141414">P<tspan dy="-10.76" font-size="22.49">**</tspan><tspan dy="10.76">|</tspan>Si<tspan dy="-10.76" font-size="22.49">**</tspan><tspan dy="10.76">|</tspan>PxSi<tspan dy="-10.76" font-size="22.49">**</tspan></text>
<text transform="translate(731.5 1869) scale(1 1)" font-size="42" text-anchor="start" font-family='"Liberation Sans", sans-serif' font-weight="bold" fill="#141414">(h)</text>
<text transform="translate(818 2061.1) rotate(-90) scale(1.06 1)" font-size="27.8" text-anchor="middle" font-family='"Liberation Serif", serif' font-weight="normal" fill="#141414" textLength="280.19" lengthAdjust="spacingAndGlyphs">Carotenoids (mg g <tspan dy="-8.34" font-size="15.85">-1</tspan><tspan dy="8.34"> FM)</tspan></text>
<rect x="460.8" y="9" width="16.4" height="16.4" fill="#fff" stroke="#000" stroke-width="1.6"/>
<rect x="589" y="8.8" width="17" height="16.4" fill="#000"/>
<text transform="translate(485 27.5) scale(1 1.06)" font-size="33" text-anchor="start" font-family='"Liberation Serif", serif' font-weight="normal" fill="#141414">Si (-)</text>
<text transform="translate(613.5 27.5) scale(1 1.06)" font-size="33" text-anchor="start" font-family='"Liberation Serif", serif' font-weight="normal" fill="#141414">Si (+)</text>
<rect x="1194.3" y="21.6" width="16.4" height="16.4" fill="#fff" stroke="#000" stroke-width="1.6"/>
<rect x="1327" y="21" width="17.5" height="17.5" fill="#000"/>
<text transform="translate(1218.8 40) scale(1 1.06)" font-size="32.6" text-anchor="start" font-family='"Liberation Serif", serif' font-weight="normal" fill="#141414">Si (-)</text>
<text transform="translate(1351.6 40) scale(1 1.06)" font-size="32.6" text-anchor="start" font-family='"Liberation Serif", serif' font-weight="normal" fill="#141414">Si (+)</text>
</svg>
</body></html>
